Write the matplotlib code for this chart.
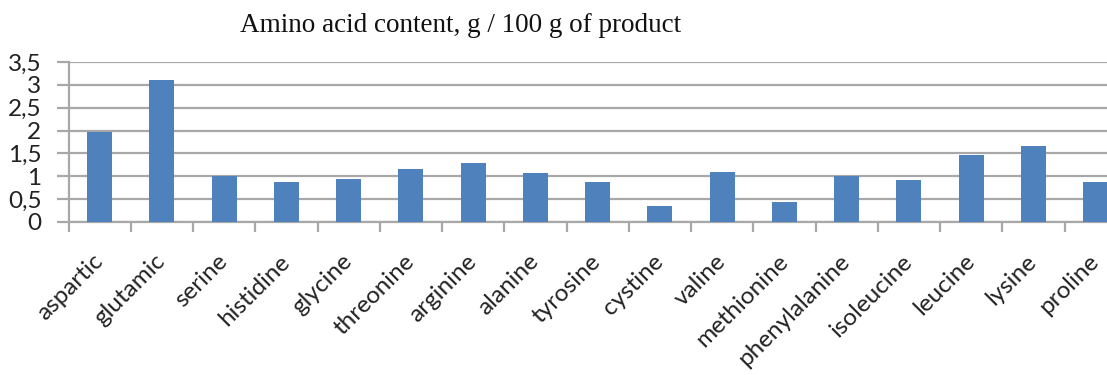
import matplotlib
matplotlib.use("Agg")
import matplotlib.pyplot as plt
import numpy as np

# Amino acid content, g per 100 g of product
amino_acids = ["aspartic", "glutamic", "serine", "histidine", "glycine",
               "threonine", "arginine", "alanine", "tyrosine", "cystine",
               "valine", "methionine", "phenylalanine", "isoleucine",
               "leucine", "lysine", "proline"]
content = [1.96, 3.10, 1.00, 0.88, 0.94, 1.16, 1.30, 1.08, 0.88, 0.36,
           1.10, 0.44, 1.00, 0.91, 1.47, 1.66, 0.88]
y_ticks = [0, 0.5, 1, 1.5, 2, 2.5, 3, 3.5]
y_tick_labels = ["0", "0,5", "1", "1,5", "2", "2,5", "3", "3,5"]
title = "Amino acid content, g / 100 g of product"

BAR_COLOR = "#4F81BD"
GRID_COLOR = "#a8a8a8"
LABEL_FONT = "Lato"

fig = plt.figure(figsize=(11.07, 3.75), dpi=100)
W, H = 1107, 375
left_px, right_px, top_px, bottom_px = 68.5, 1126.75, 62, 222
ax = fig.add_axes([left_px / W, 1 - bottom_px / H,
                   (right_px - left_px) / W, (bottom_px - top_px) / H])

x = np.arange(len(amino_acids))
ax.bar(x, content, width=0.40, color=BAR_COLOR, zorder=3)

ax.set_xlim(-0.5, len(amino_acids) - 0.5)
ax.set_ylim(0, 3.5)

# horizontal gridlines
ax.set_yticks(y_ticks)
ax.set_yticklabels(y_tick_labels, fontsize=17.5, family=LABEL_FONT, color="#222222")
ax.yaxis.grid(True, color=GRID_COLOR, linewidth=1.6, zorder=0)
ax.tick_params(axis="y", length=8.5, width=1.6, color=GRID_COLOR, pad=11)

# category labels at bar centres, boundary tick marks between categories
ax.set_xticks(x)
ax.set_xticklabels(amino_acids, rotation=45, ha="right", va="center",
                   rotation_mode="anchor", fontsize=17.5, family=LABEL_FONT,
                   color="#222222")
ax.tick_params(axis="x", which="major", length=0, pad=26)
ax.set_xticks(np.arange(-0.5, len(amino_acids) + 0.5, 1), minor=True)
ax.tick_params(axis="x", which="minor", length=7, width=1.6, color=GRID_COLOR)

for side in ("top", "right"):
    ax.spines[side].set_visible(False)
for side in ("left", "bottom"):
    ax.spines[side].set_color(GRID_COLOR)
    ax.spines[side].set_linewidth(1.6)
ax.set_axisbelow(True)

fig.text(461 / W, 1 - 32 / H, title, ha="center", va="baseline",
         fontsize=19.5, family="Liberation Serif", color="#111111")

fig.savefig("out.png", dpi=100)
